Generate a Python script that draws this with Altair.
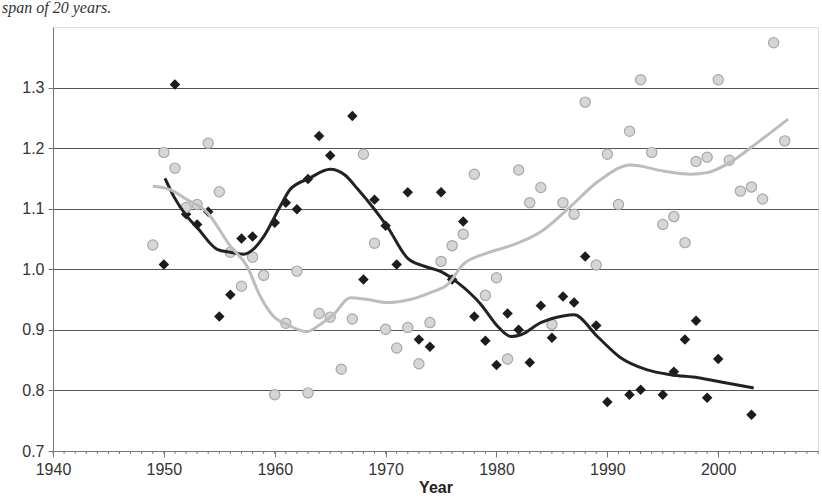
import altair as alt
import pandas as pd

# ---- data ----
diamond_years = [1950, 1951, 1952, 1953, 1954, 1955, 1956, 1957, 1958, 1960, 1961, 1962,
                 1963, 1964, 1965, 1967, 1968, 1969, 1970, 1971, 1972, 1973, 1974, 1975,
                 1976, 1977, 1978, 1979, 1980, 1981, 1982, 1983, 1984, 1985, 1986, 1987,
                 1988, 1989, 1990, 1992, 1993, 1995, 1996, 1997, 1998, 1999, 2000, 2003]
diamond_values = [1.008, 1.305, 1.091, 1.074, 1.095, 0.922, 0.958, 1.051, 1.054, 1.077, 1.110, 1.099,
                  1.149, 1.220, 1.188, 1.253, 0.983, 1.115, 1.072, 1.008, 1.127, 0.884, 0.872, 1.127,
                  0.983, 1.079, 0.922, 0.882, 0.842, 0.927, 0.900, 0.846, 0.940, 0.887, 0.955, 0.945,
                  1.021, 0.907, 0.781, 0.793, 0.801, 0.793, 0.831, 0.884, 0.915, 0.788, 0.852, 0.760]

circle_years = [1949, 1950, 1951, 1952, 1953, 1954, 1955, 1956, 1957, 1958, 1959, 1960,
                1961, 1962, 1963, 1964, 1965, 1966, 1967, 1968, 1969, 1970, 1971, 1972,
                1973, 1974, 1975, 1976, 1977, 1978, 1979, 1980, 1981, 1982, 1983, 1984,
                1985, 1986, 1987, 1988, 1989, 1990, 1991, 1992, 1993, 1994, 1995, 1996,
                1997, 1998, 1999, 2000, 2001, 2002, 2003, 2004, 2005, 2006]
circle_values = [1.040, 1.193, 1.167, 1.102, 1.107, 1.208, 1.128, 1.028, 0.972, 1.020, 0.990, 0.793,
                 0.911, 0.997, 0.796, 0.927, 0.921, 0.835, 0.918, 1.190, 1.043, 0.901, 0.870, 0.904,
                 0.844, 0.912, 1.013, 1.039, 1.058, 1.157, 0.957, 0.986, 0.852, 1.164, 1.110, 1.135,
                 0.909, 1.110, 1.091, 1.276, 1.007, 1.190, 1.107, 1.228, 1.313, 1.193, 1.074, 1.087,
                 1.044, 1.178, 1.185, 1.313, 1.180, 1.129, 1.136, 1.116, 1.374, 1.212]

black_curve_x = [1950.1, 1950.9, 1952.1, 1953.0, 1954.8, 1956.0, 1957.2, 1958.0, 1959.0, 1960.5,
                 1961.4, 1963.1, 1965.0, 1966.3, 1967.5, 1970.2, 1972.0, 1973.5, 1975.0, 1976.5,
                 1978.6, 1980.1, 1981.3, 1982.2, 1984.0, 1986.0, 1987.0, 1989.1, 1991.2, 1993.6,
                 1995.7, 1998.2, 2000.5, 2003.2]
black_curve_y = [1.150, 1.120, 1.087, 1.069, 1.033, 1.028, 1.025, 1.032, 1.054, 1.104,
                 1.132, 1.150, 1.165, 1.156, 1.132, 1.069, 1.018, 1.005, 0.996, 0.978,
                 0.942, 0.906, 0.889, 0.892, 0.912, 0.923, 0.925, 0.889, 0.854, 0.834,
                 0.826, 0.821, 0.813, 0.804]

grey_curve_x = [1949.0, 1950.5, 1952.1, 1953.9, 1956.0, 1957.5, 1958.7, 1959.9, 1961.1, 1962.9,
                1964.1, 1965.3, 1966.8, 1968.4, 1970.2, 1972.2, 1974.1, 1975.6, 1977.0, 1979.2,
                1981.6, 1984.0, 1986.7, 1989.1, 1992.1, 1995.1, 1997.5, 1999.1, 2001.2, 2003.6,
                2006.3]
grey_curve_y = [1.137, 1.132, 1.115, 1.094, 1.038, 1.005, 0.955, 0.922, 0.909, 0.897,
                0.909, 0.925, 0.953, 0.950, 0.945, 0.950, 0.962, 0.975, 1.008, 1.027,
                1.041, 1.062, 1.104, 1.144, 1.172, 1.162, 1.157, 1.160, 1.178, 1.210,
                1.248]

minor_tick_years = list(range(1940, 2010))
x_tick_labels = [1940, 1950, 1960, 1970, 1980, 1990, 2000]
y_tick_labels = [0.7, 0.8, 0.9, 1.0, 1.1, 1.2, 1.3]
caption = ["span of 20 years."]

W, H = 765, 424

diamonds = pd.DataFrame({"Year": diamond_years, "v": diamond_values})
circles = pd.DataFrame({"Year": circle_years, "v": circle_values})
bcurve = pd.DataFrame({"Year": black_curve_x, "v": black_curve_y})
gcurve = pd.DataFrame({"Year": grey_curve_x, "v": grey_curve_y})
minor = pd.DataFrame({"Year": minor_tick_years})
cap = pd.DataFrame({"t": caption})

xscale = alt.Scale(domain=[1940, 2009], nice=False, zero=False)
yscale = alt.Scale(domain=[0.7, 1.4], nice=False, zero=False)

xaxis = alt.Axis(values=x_tick_labels, format="d", title="Year", grid=False,
                 tickSize=6, labelPadding=4, labelFontSize=16, labelColor="#333",
                 labelFont="Liberation Sans", titleFont="Liberation Sans", titleFontSize=16,
                 titleFontWeight="bold", titleColor="#222", titlePadding=2,
                 domainColor="#777", tickColor="#777", labelFlush=False)
yaxis = alt.Axis(values=y_tick_labels, format=".1f", title=None, grid=True,
                 gridColor="#555", gridWidth=1, tickSize=5, labelPadding=4,
                 labelFontSize=16, labelColor="#333", labelFont="Liberation Sans",
                 domainColor="#777", tickColor="#777")

base_x = alt.X("Year:Q", scale=xscale, axis=xaxis)
base_y = alt.Y("v:Q", scale=yscale, axis=yaxis)

pts_d = alt.Chart(diamonds).mark_point(shape="diamond", filled=True, size=110,
                                       color="#1c1c1c", opacity=1).encode(x=base_x, y=base_y)
pts_c = alt.Chart(circles).mark_point(shape="circle", filled=True, size=105,
                                      fill="#d6d6d6", stroke="#a8a8a8", strokeWidth=1.2,
                                      opacity=1, fillOpacity=1).encode(x=base_x, y=base_y)
line_b = alt.Chart(bcurve).mark_line(color="#222222", strokeWidth=3,
                                     interpolate="monotone").encode(x=base_x, y=base_y)
line_g = alt.Chart(gcurve).mark_line(color="#bdbdbd", strokeWidth=3,
                                     interpolate="monotone").encode(x=base_x, y=base_y)
minor_ticks = alt.Chart(minor).mark_rule(color="#777", strokeWidth=1).encode(
    x=alt.X("Year:Q", scale=xscale), y=alt.value(H), y2=alt.value(H + 3))
cap_text = alt.Chart(cap).mark_text(font="Liberation Serif", fontStyle="italic",
                                    fontSize=16, align="left", baseline="alphabetic",
                                    color="#333").encode(
    text="t:N", x=alt.value(2 - 53), y=alt.value(13 - 27))

chart = alt.layer(minor_ticks, pts_d, pts_c, line_b, line_g, cap_text).properties(
    width=W, height=H,
    autosize=alt.AutoSizeParams(type="none"),
    padding={"left": 53, "top": 27, "right": 4, "bottom": 45},
).configure_view(stroke="#888", strokeWidth=1).configure(background="white")

chart.save("out.html", embed_options={"renderer": "svg", "actions": False})
